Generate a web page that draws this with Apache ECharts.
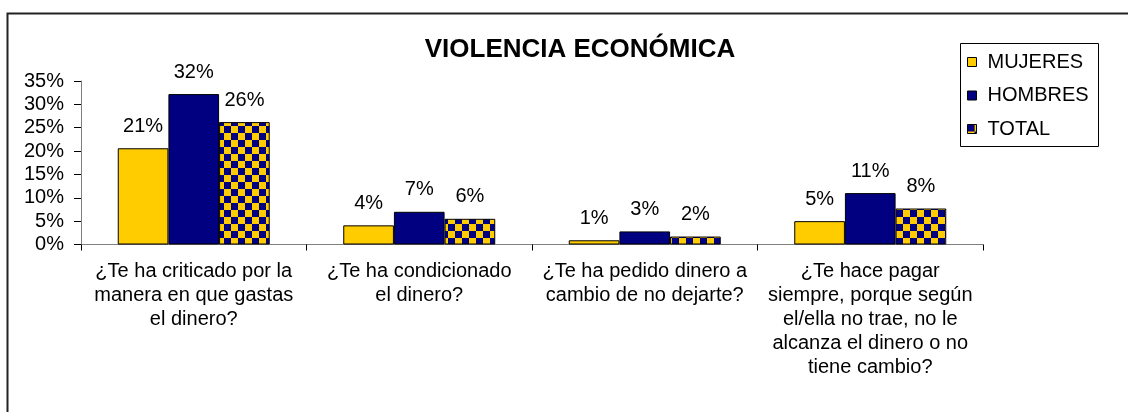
<!DOCTYPE html>
<html>
<head>
<meta charset="utf-8">
<style>
  html, body { margin: 0; padding: 0; background: #fff; }
  #chart { width: 1128px; height: 412px; }
</style>
<script src="https://cdn.jsdelivr.net/npm/echarts@6/dist/echarts.min.js"></script>
</head>
<body>
<div id="chart"></div>
<script>
// categorías (preguntas)
const categories = [
  '¿Te ha criticado por la\nmanera en que gastas\nel dinero?',
  '¿Te ha condicionado\nel dinero?',
  '¿Te ha pedido dinero a\ncambio de no dejarte?',
  '¿Te hace pagar\nsiempre, porque según\nel/ella no trae, no le\nalcanza el dinero o no\ntiene cambio?'
];
// valores en %
const mujeres = [20.6, 4.1, 0.9, 5.0];
const hombres = [32.2, 7.0, 2.8, 11.0];
const total = [26.2, 5.5, 1.7, 7.7];

const YELLOW = '#FFCC00';
const NAVY = '#000080';
const FONT = 'Arial, "Liberation Sans", sans-serif';

// patrón de cuadros para TOTAL
function checker() {
  const c = document.createElement('canvas');
  c.width = 14; c.height = 14;
  const ctx = c.getContext('2d');
  ctx.fillStyle = YELLOW;
  ctx.fillRect(0, 0, 14, 14);
  ctx.fillStyle = NAVY;
  ctx.fillRect(0, 0, 7, 7);
  ctx.fillRect(7, 7, 7, 7);
  return c;
}

const chart = echarts.init(document.getElementById('chart'));

const label = {
  show: true,
  position: 'top',
  distance: 12,
  color: '#000',
  fontSize: 20,
  fontFamily: FONT,
  formatter: p => Math.round(p.value) + '%'
};

function bar(name, data, color) {
  return {
    name: name,
    type: 'bar',
    data: data,
    barGap: '0%',
    barCategoryGap: '32.6%',
    itemStyle: { color: color, borderColor: '#000', borderWidth: 1 },
    label: label,
    emphasis: { disabled: true }
  };
}

chart.setOption({
  animation: false,
  textStyle: { fontFamily: FONT },
  title: {
    text: 'VIOLENCIA ECONÓMICA',
    left: 575,
    top: 32,
    textAlign: 'center',
    textStyle: { fontSize: 26, fontWeight: 'bold', color: '#000', fontFamily: FONT }
  },
  graphic: [
    {
      type: 'rect',
      shape: { x: 7.5, y: 13.5, width: 1300, height: 600 },
      style: { fill: null, stroke: '#222', lineWidth: 2 },
      silent: true
    },
    {
      type: 'rect',
      shape: { x: 960.5, y: 43.5, width: 138, height: 103 },
      style: { fill: '#fff', stroke: '#000', lineWidth: 1 },
      silent: true
    }
  ],
  legend: {
    orient: 'vertical',
    left: 967,
    top: 52,
    padding: 0,
    itemWidth: 9,
    itemHeight: 9,
    itemGap: 13.5,
    icon: 'rect',
    itemStyle: { borderColor: '#000', borderWidth: 1 },
    textStyle: { fontSize: 20, color: '#000', fontFamily: FONT, padding: [0, 0, 0, 6] },
    selectedMode: false,
    data: ['MUJERES', 'HOMBRES', 'TOTAL'],
    z: 10
  },
  grid: { left: 81, right: 145, top: 81, bottom: 167.5 },
  xAxis: {
    type: 'category',
    data: categories,
    axisLine: { lineStyle: { color: '#808080', width: 1 } },
    axisTick: { show: true, length: 6, lineStyle: { color: '#000' } },
    axisLabel: {
      interval: 0,
      margin: 15,
      color: '#000',
      fontSize: 20,
      lineHeight: 24,
      align: 'center',
      fontFamily: FONT
    }
  },
  yAxis: {
    type: 'value',
    min: 0,
    max: 35,
    interval: 5,
    axisLine: { show: true, lineStyle: { color: '#808080' } },
    axisTick: { show: true, length: 7, lineStyle: { color: '#000' } },
    splitLine: { show: false },
    axisLabel: {
      margin: 17,
      color: '#000',
      fontSize: 20,
      fontFamily: FONT,
      formatter: '{value}%'
    }
  },
  series: [
    bar('MUJERES', mujeres, YELLOW),
    bar('HOMBRES', hombres, NAVY),
    bar('TOTAL', total, { image: checker(), repeat: 'repeat' })
  ]
});
</script>
</body>
</html>
